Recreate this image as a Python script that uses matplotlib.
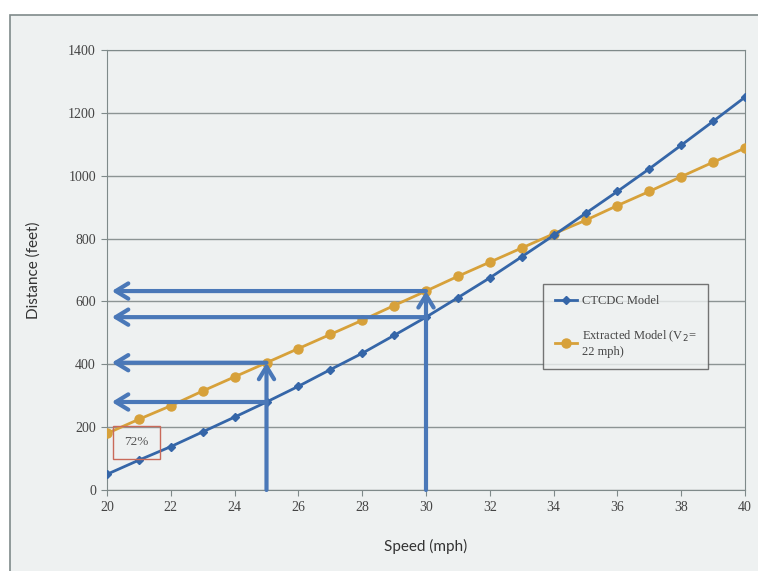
import matplotlib.pyplot as plt
from matplotlib.patches import Rectangle

speed = list(range(20, 41))
ctcdc = [50, 95, 138, 185, 232, 280, 330, 383, 435, 492, 550,
         612, 675, 742, 810, 880, 950, 1022, 1097, 1173, 1250]
extracted = [180, 225, 268, 315, 360, 405, 450, 495, 540, 587, 633,
             680, 725, 770, 815, 858, 905, 950, 997, 1043, 1088]

# readings taken at 25 and 30 mph
read_speeds = [25, 30]
x_ticks = list(range(20, 41, 2))
y_ticks = list(range(0, 1401, 200))

BLUE = '#3566a8'
ORANGE = '#d7a13a'
ARROW = '#4a78b8'
BG = '#eef1f1'
serif = 'Liberation Serif'

fig = plt.figure(figsize=(7.58, 5.71), dpi=100, facecolor='white')
ax = fig.add_axes([107 / 758, 1 - 490 / 571, 638 / 758, 440 / 571])
ax.set_facecolor(BG)
fig.patches.append(Rectangle((10 / 758, -0.05), 1, 1.05 - 15 / 571, transform=fig.transFigure,
                             facecolor=BG, edgecolor='#7f8a8a', linewidth=1.2, zorder=-5))

ax.plot(speed, ctcdc, color=BLUE, lw=2, marker='D', ms=4.5, label='CTCDC Model', zorder=4)
ax.plot(speed, extracted, color=ORANGE, lw=2, marker='o', ms=6.5,
        label='Extracted Model (V$_2$=\n22 mph)', zorder=3)

# arrows from the x axis up to each curve, then across to the distance axis
arrow_kw = dict(arrowstyle='->,head_length=0.9,head_width=0.55', color=ARROW, lw=3,
                shrinkA=0, shrinkB=0)
for s in read_speeds:
    i = speed.index(s)
    top = extracted[i]
    ax.annotate('', xy=(s, top), xytext=(s, 0), arrowprops=arrow_kw, zorder=5)
    for d in (extracted[i], ctcdc[i]):
        ax.annotate('', xy=(20.15, d), xytext=(s, d), arrowprops=arrow_kw, zorder=5)

ax.add_patch(Rectangle((20.2, 100), 1.45, 105, facecolor='none', edgecolor='#c96a5a',
                       lw=1, zorder=6))
ax.text(20.92, 152, '72%', ha='center', va='center', fontsize=9.5, family=serif,
        color='#555555', zorder=6)

ax.set_xlim(20, 40)
ax.set_ylim(0, 1400)
ax.set_xticks(x_ticks)
ax.set_yticks(y_ticks)
ax.grid(axis='y', color='#8c9494', lw=1)
ax.set_axisbelow(True)
for side in ax.spines.values():
    side.set_color('#7f8a8a')
ax.tick_params(direction='out', length=4, color='#7f8a8a', labelsize=10,
               labelcolor='#444444', pad=4)
for lab in ax.get_xticklabels() + ax.get_yticklabels():
    lab.set_family(serif)

ax.set_xlabel('Speed (mph)', family='Lato', fontsize=11, color='#333333', labelpad=18)
ax.set_ylabel('Distance (feet)', family='Lato', fontsize=11, color='#333333', labelpad=20)

leg = ax.legend(loc='upper left', bbox_to_anchor=((537 - 107) / 638, (490 - 278) / 440),
                prop={'family': serif, 'size': 9}, frameon=True, fancybox=False,
                edgecolor='#555555', facecolor=BG, labelspacing=1.7,
                handlelength=1.8, handletextpad=0.4, borderpad=0.9)
leg.get_frame().set_linewidth(1)
for t in leg.get_texts():
    t.set_color('#444444')

fig.savefig('out.png', dpi=100, facecolor='white')
